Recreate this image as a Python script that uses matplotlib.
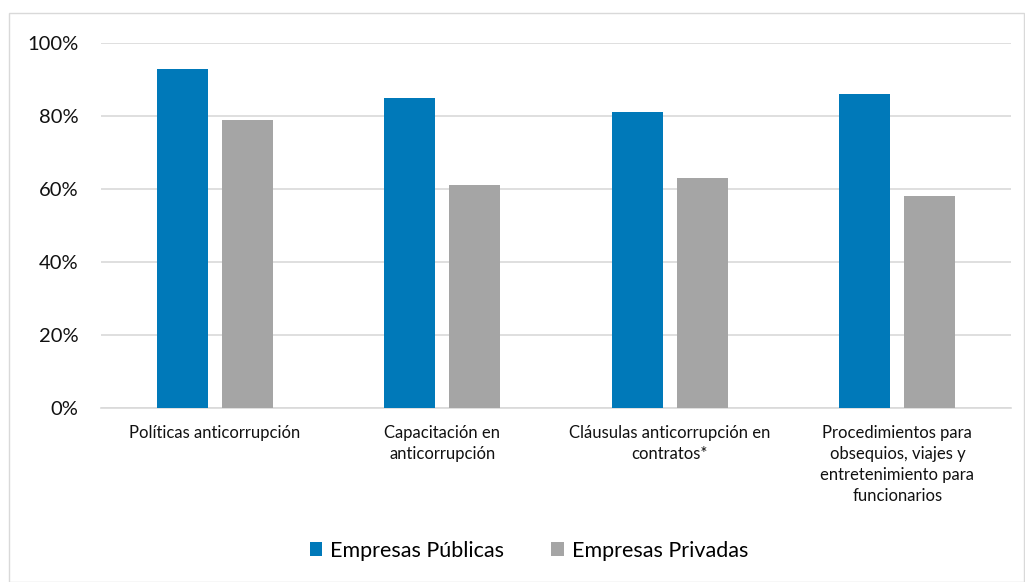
import matplotlib
matplotlib.use("Agg")
import matplotlib.pyplot as plt
import numpy as np
from matplotlib.patches import Rectangle

categories = ["Políticas anticorrupción",
              "Capacitación en\nanticorrupción",
              "Cláusulas anticorrupción en\ncontratos*",
              "Procedimientos para\nobsequios, viajes y\nentretenimiento para\nfuncionarios"]
publicas = [0.93, 0.85, 0.81, 0.86]
privadas = [0.79, 0.61, 0.63, 0.58]
yticks = [0, 0.2, 0.4, 0.6, 0.8, 1.0]
ytick_labels = ["0%", "20%", "40%", "60%", "80%", "100%"]

plt.rcParams['font.family'] = ['Lato', 'DejaVu Sans']

fig = plt.figure(figsize=(10.25, 5.82), dpi=100)
ax = fig.add_axes([0.0985, 0.299, 0.888, 0.627])

x = np.arange(len(categories))
w = 0.224
off = 0.143
ax.bar(x - off, publicas, w, color="#0079B9", label="Empresas Públicas", zorder=3)
ax.bar(x + off, privadas, w, color="#A5A5A5", label="Empresas Privadas", zorder=3)

ax.set_xlim(-0.5, len(categories) - 0.5)
ax.set_ylim(0, 1.0)
ax.set_yticks(yticks)
ax.set_yticklabels(ytick_labels, fontsize=14.5, color="#111111")
ax.set_xticks(x)
ax.set_xticklabels(categories, fontsize=12, linespacing=1.4, va="top", color="#111111")
ax.tick_params(axis="y", length=0, pad=16)
ax.tick_params(axis="x", length=0, pad=12)
ax.grid(axis="y", color="#D9D9D9", linewidth=1.2, zorder=0)
for s in ["top", "right", "left"]:
    ax.spines[s].set_visible(False)
ax.spines["bottom"].set_color("#D9D9D9")
ax.spines["bottom"].set_linewidth(1.2)

fig.legend(loc="center", bbox_to_anchor=(0.516, 0.054), ncol=2, frameon=False,
           fontsize=15.5, handlelength=0.6, handleheight=0.6, columnspacing=2.2,
           handletextpad=0.35)

fig.patches.append(Rectangle((0.009, 0.0), 0.99, 0.978, transform=fig.transFigure,
                             fill=False, edgecolor="#D9D9D9", linewidth=1))

fig.savefig("out.png", dpi=100)
